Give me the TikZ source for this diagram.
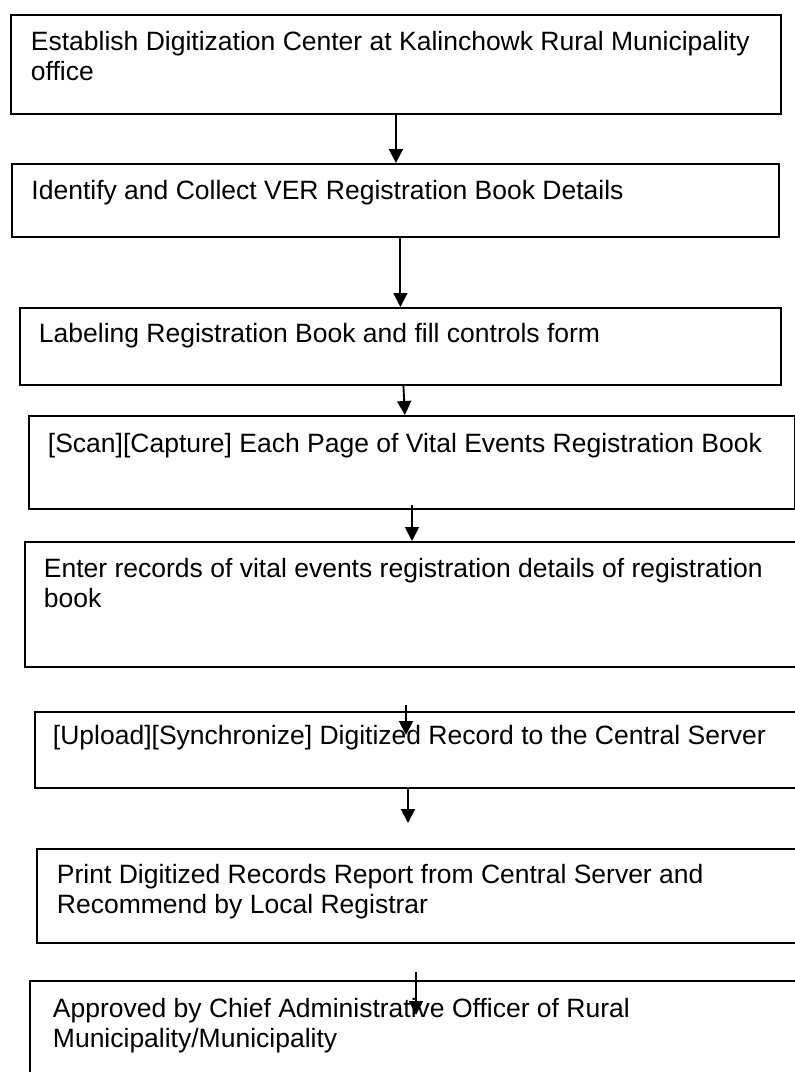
\documentclass[tikz,border=0pt]{standalone}
\usepackage{fontspec}
\setmainfont{Liberation Sans}
\usetikzlibrary{arrows.meta,calc}

\tikzset{
  stepbox/.style={draw, line width=1.8pt, inner sep=0pt, anchor=north west},
  steptext/.style={anchor=base west, align=left, inner sep=0pt,
    font=\fontsize{26.5}{30}\selectfont},
}

\begin{document}
\begin{tikzpicture}[x=1pt, y=-1pt, line width=1.9pt,
    >={Triangle[length=14pt,width=14pt]}]
        \useasboundingbox (0,0) rectangle (795,1072);

        % draw the boxes
        \node[stepbox, minimum width=770pt, minimum height=99pt] (b1) at (10,14) {};
        \node[stepbox, minimum width=767pt, minimum height=73pt] (b2) at (11,163) {};
        \node[stepbox, minimum width=761pt, minimum height=77pt] (b3) at (19,307) {};
        \node[stepbox, minimum width=766pt, minimum height=93pt] (b4) at (28,415) {};
        \node[stepbox, minimum width=790pt, minimum height=125pt] (b5) at (24,541) {};
        \node[stepbox, minimum width=780pt, minimum height=76pt] (b6) at (34,711) {};
        \node[stepbox, minimum width=780pt, minimum height=94pt] (b7) at (36,848) {};
        \node[stepbox, minimum width=790pt, minimum height=120pt] (b8) at (29,980) {};

        % the texts (multi-line ones sit on the baseline of their last line)
        \node[steptext] (t1) at (30,80) {Establish Digitization Center at Kalinchowk Rural Municipality\\office};
        \node[steptext] (t2) at (30.5,199) {Identify and Collect VER Registration Book Details};
        \node[steptext] (t3) at (38,342) {Labeling Registration Book and fill controls form};
        \node[steptext] (t4) at (47,452) {[Scan][Capture] Each Page of Vital Events Registration Book};
        \node[steptext] (t5) at (43,607) {Enter records of vital events registration details of registration\\book};
        \node[steptext] (t6) at (52,744) {[Upload][Synchronize] Digitized Record to the Central Server};
        \node[steptext] (t7) at (56,913) {Print Digitized Records Report from Central Server and\\Recommend by Local Registrar};
        \node[steptext] (t8) at (52,1047) {Approved by Chief Administrative Officer of Rural\\Municipality/Municipality};

        % loose arrow ends
        \coordinate (a4) at (412,505);
        \coordinate (a5) at (406,705);
        \coordinate (a5e) at (406,735);
        \coordinate (a6e) at (408,823);
        \coordinate (a7) at (416,972);
        \coordinate (a7e) at (416,1015);

        % draw the arrows
        \draw[->] (b1.south) -- (b1.south |- b2.north);
        \draw[->] (b3.north |- b2.south) -- (b3.north);
        \draw[->] ($(b3.south)+(3,0)$) -- ($(b4.north)+(-7,0)$);
        \draw[->] (a4) -- (a4 |- b5.north);
        \draw[->] (a5) -- (a5e);
        \draw[->] (a6e |- b6.south) -- (a6e);
        \draw[->] (a7) -- (a7e);

    \end{tikzpicture}
\end{document}
